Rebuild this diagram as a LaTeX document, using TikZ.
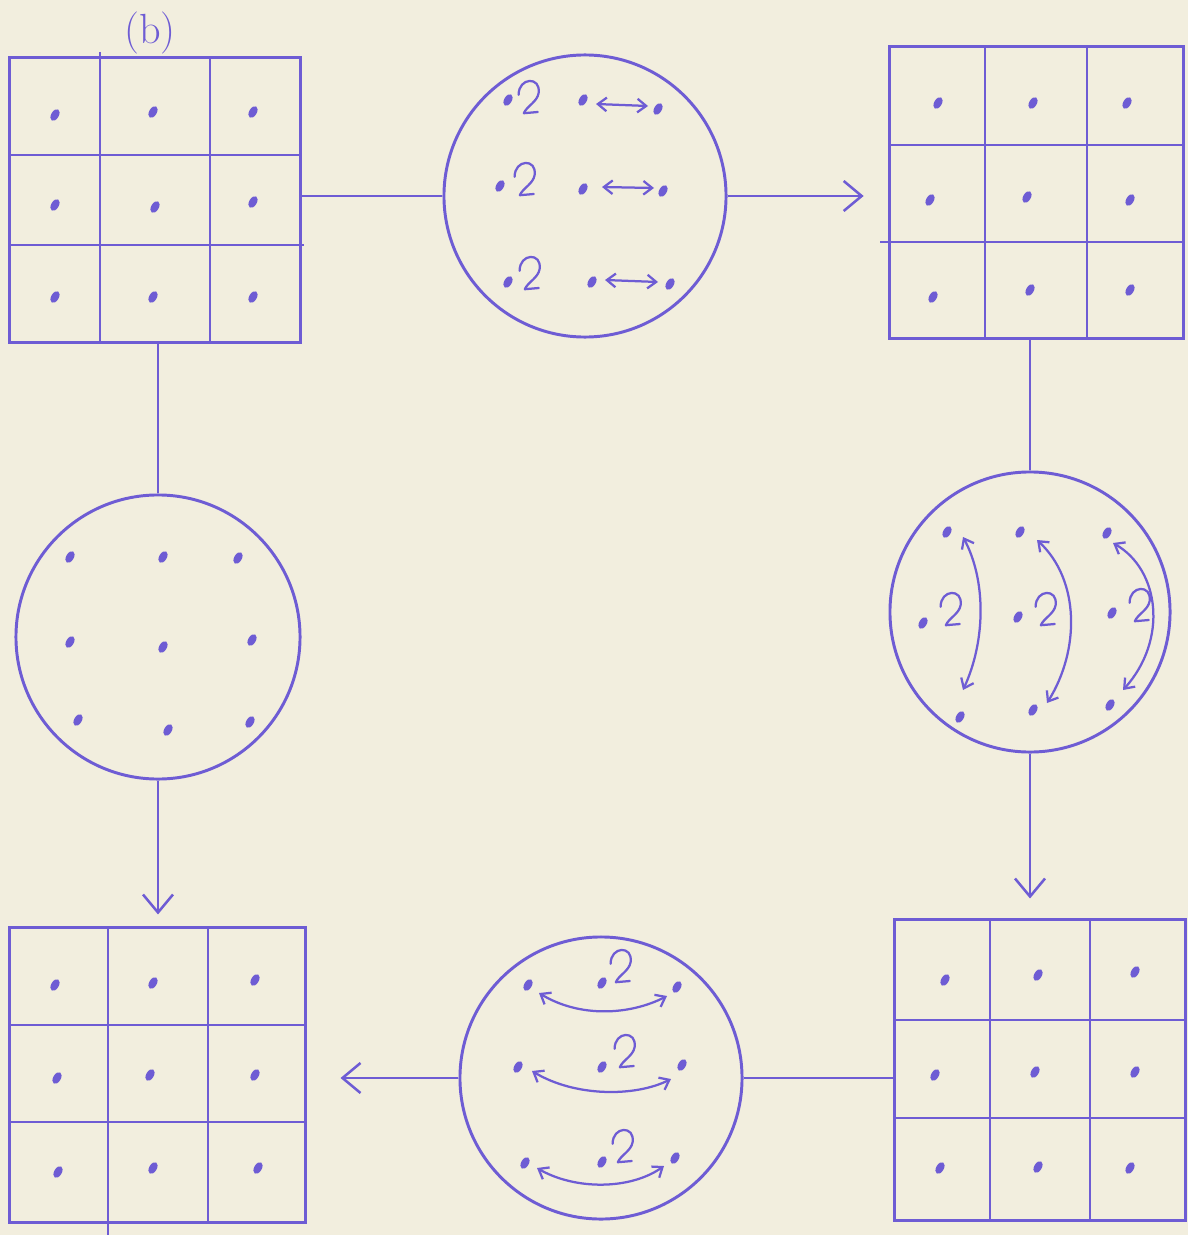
\documentclass[tikz,border=0pt]{standalone}
\usetikzlibrary{arrows.meta,calc}
\definecolor{ink}{RGB}{110,92,212}
\definecolor{paper}{RGB}{242,238,222}
\begin{document}
\begin{tikzpicture}[x=0.025cm,y=-0.025cm,
  gridbox/.style={draw=ink, rectangle, inner sep=0pt, line width=2.1pt},
  ring/.style={draw=ink, circle, inner sep=0pt, line width=2.1pt},
  cell/.style={draw=ink, line width=2.1pt},
  conn/.style={draw=ink, line width=1.8pt},
  flowarrow/.style={conn, -{Straight Barb[length=0.45cm,width=0.75cm,line width=1.8pt]}},
  swapline/.style={draw=ink, line width=1.6pt, line cap=round,
     {Straight Barb[length=0.22cm,width=0.34cm,line width=1.6pt]}-{Straight Barb[length=0.22cm,width=0.34cm,line width=1.6pt]}},
  spot/.pic={\fill[ink, rotate=-30] (0,0) ellipse (0.095cm and 0.16cm);},
  spin/.pic={\draw[ink, line width=1.6pt, line cap=round, line join=round]
     (-0.26cm,0.08cm) .. controls (-0.26cm,0.52cm) and (0.3cm,0.55cm) .. (0.24cm,0.12cm)
     .. controls (0.2cm,-0.1cm) and (-0.05cm,-0.2cm) .. (-0.13cm,-0.38cm) -- (0.22cm,-0.35cm);}
]
\useasboundingbox (0,0) rectangle (1188,1235);
\fill[paper] (0,0) rectangle (1188,1235);

% label
\node[text=ink, font=\fontsize{30}{32}\selectfont] (lab) at (150,33) {(b)};

% ---------- grids ----------
\node[gridbox, minimum width=7.25cm, minimum height=7.1cm] (g1) at (155,200) {};
\draw[cell] (100,52) -- (100,342) (210,58) -- (210,342) (10,155) -- (300,155) (10,245) -- (304,245);

\node[gridbox, minimum width=7.325cm, minimum height=7.275cm] (g2) at (1036.5,192.5) {};
\draw[cell] (985,47) -- (985,338) (1087,47) -- (1087,338) (890,145) -- (1183,145) (880,242) -- (1183,242);

\node[gridbox, minimum width=7.25cm, minimum height=7.5cm] (g3) at (1040,1070) {};
\draw[cell] (990,920) -- (990,1220) (1090,920) -- (1090,1220) (895,1020) -- (1185,1020) (895,1118) -- (1185,1118);

\node[gridbox, minimum width=7.375cm, minimum height=7.35cm] (g4) at (157.5,1075) {};
\draw[cell] (108,928) -- (108,1235) (208,928) -- (208,1222) (10,1025) -- (305,1025) (10,1122) -- (305,1122);

% grid dots
\foreach \p in {(55,115),(153,112),(253,112),(55,205),(155,207),(253,202),(55,297),(153,297),(253,297),
                (938,103),(1033,103),(1127,103),(930,200),(1027,197),(1130,200),(933,297),(1030,290),(1130,290),
                (945,980),(1038,975),(1135,972),(935,1075),(1035,1072),(1135,1072),(940,1168),(1038,1167),(1130,1168),
                (55,985),(153,983),(255,980),(57,1078),(150,1075),(255,1075),(58,1172),(153,1168),(258,1168)}
  \pic at \p {spot};

% ---------- circles ----------
\node[ring, minimum size=7.05cm] (c1) at (585,196) {};
\node[ring, minimum size=7.0cm] (c2) at (1030,612) {};
\node[ring, minimum size=7.05cm] (c3) at (601,1078) {};
\node[ring, minimum size=7.1cm] (c4) at (158,637) {};

% circle 1 (top)
\foreach \p in {(508,100),(500,186),(508,282),(583,100),(658,109),(583,189),(663,191),(592,282),(670,284)}
  \pic at \p {spot};
\foreach \p in {(529,98),(525,180),(530,274)} \pic at \p {spin};
\draw[swapline] (596,104) -- (648,106);
\draw[swapline] (602,187) -- (654,188);
\draw[swapline] (605,280) -- (658,282);

% circle 2 (right)
\foreach \p in {(947,532),(1020,532),(1107,533),(923,623),(1018,617),(1112,613),(960,717),(1033,710),(1110,705)}
  \pic at \p {spot};
\foreach \p in {(951,610),(1046,610),(1140,606)} \pic at \p {spin};
\draw[swapline] (963,690) .. controls (986,640) and (986,580) .. (963,537);
\draw[swapline] (1047,703) .. controls (1080,650) and (1080,580) .. (1037,540);
\draw[swapline] (1123,690) .. controls (1168,640) and (1160,570) .. (1113,543);

% circle 3 (bottom)
\foreach \p in {(528,985),(677,987),(602,983),(518,1067),(682,1065),(602,1067),(525,1163),(675,1158),(602,1162)}
  \pic at \p {spot};
\foreach \p in {(621,967),(625,1052),(623,1147)} \pic at \p {spin};
\draw[swapline] (539,993) .. controls (580,1018) and (630,1015) .. (667,996);
\draw[swapline] (532,1071) .. controls (575,1097) and (635,1097) .. (671,1079);
\draw[swapline] (537,1168) .. controls (575,1190) and (630,1190) .. (664,1166);

% circle 4 (left)
\foreach \p in {(70,557),(163,557),(238,558),(70,642),(163,647),(252,640),(78,720),(168,730),(250,722)}
  \pic at \p {spot};

% ---------- connectors ----------
\draw[conn] (c1.west -| g1.east) -- (c1.west);
\draw[flowarrow, shorten >=0.62cm] (c1.east) -- (c1.east -| g2.west);
\draw[conn] (c2.north |- g2.south) -- (c2.north);
\draw[flowarrow, shorten >=0.5cm] (c2.south) -- (c2.south |- g3.north);
\draw[conn] (c3.east -| g3.west) -- (c3.east);
\draw[flowarrow, shorten >=0.85cm] (c3.west) -- (c3.west -| g4.east);
\draw[conn] (c4.north |- g1.south) -- (c4.north);
\draw[flowarrow, shorten >=0.3cm] (c4.south) -- (c4.south |- g4.north);
\end{tikzpicture}
\end{document}
